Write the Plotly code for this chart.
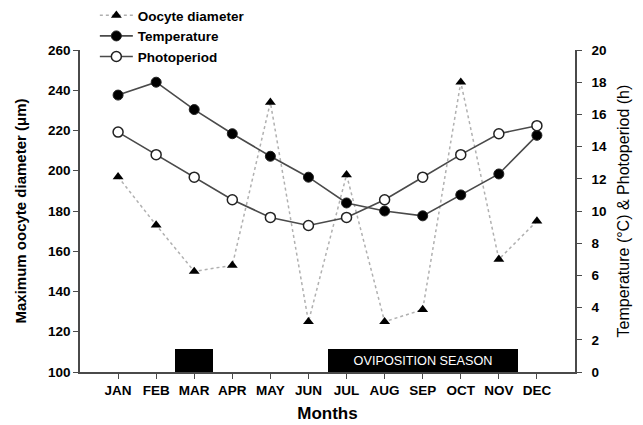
import plotly.graph_objects as go

# Monthly data
months = ["JAN", "FEB", "MAR", "APR", "MAY", "JUN", "JUL", "AUG", "SEP", "OCT", "NOV", "DEC"]
month_pos = list(range(1, 13))
oocyte_diameter = [197, 173, 150, 153, 234, 125, 198, 125, 131, 244, 156, 175]
temperature = [17.2, 18.0, 16.3, 14.8, 13.4, 12.1, 10.5, 10.0, 9.7, 11.0, 12.3, 14.7]
photoperiod = [14.9, 13.5, 12.1, 10.7, 9.6, 9.1, 9.6, 10.7, 12.1, 13.5, 14.8, 15.3]

# Reproductive periods (centre month, span in months, bar height on the right axis)
period_centre = [3, 9]
period_span = [1, 5]
period_height = [1.4, 1.4]
period_label = ["", "OVIPOSITION SEASON"]

FONT = "Liberation Sans, Arial, sans-serif"
LINE = "#4a4a4a"
TICKFONT = dict(family=FONT, size=13.5, weight="bold")

fig = go.Figure()

fig.add_trace(go.Bar(
    x=period_centre, y=period_height, width=period_span, base=0,
    yaxis="y2", marker=dict(color="black", line=dict(width=0)),
    text=period_label, textposition="inside", insidetextanchor="middle",
    textfont=dict(family=FONT, size=12.7, color="white"),
    showlegend=False, hoverinfo="skip",
))

fig.add_trace(go.Scatter(
    x=month_pos, y=oocyte_diameter, name="Oocyte diameter", mode="lines+markers",
    line=dict(color="#b0b0b0", width=1.5, dash="dot"),
    marker=dict(symbol="triangle-up", size=9.5, color="black"),
))
fig.add_trace(go.Scatter(
    x=month_pos, y=temperature, name="Temperature", mode="lines+markers", yaxis="y2",
    line=dict(color=LINE, width=1.6),
    marker=dict(symbol="circle", size=10, color="black", line=dict(color="#222", width=1)),
))
fig.add_trace(go.Scatter(
    x=month_pos, y=photoperiod, name="Photoperiod", mode="lines+markers", yaxis="y2",
    line=dict(color=LINE, width=1.6),
    marker=dict(symbol="circle", size=10, color="white", line=dict(color="#222", width=1.5)),
))

fig.update_layout(
    width=643, height=425,
    margin=dict(l=80, r=68, t=50, b=53, autoexpand=False),
    plot_bgcolor="white", paper_bgcolor="white",
    font=dict(family=FONT, color="black"),
    showlegend=True,
    legend=dict(
        x=0.03, y=1.155, xanchor="left", yanchor="top",
        font=dict(family=FONT, size=13.5, weight="bold"),
        bgcolor="rgba(0,0,0,0)", itemwidth=33, tracegroupgap=0,
    ),
    xaxis=dict(
        range=[0, 13], tickvals=month_pos, ticktext=months,
        showgrid=False, zeroline=False, automargin=False,
        showline=True, linecolor=LINE, linewidth=1.5,
        ticks="outside", ticklen=5, tickcolor=LINE,
        tickfont=TICKFONT,
        title=dict(text="Months", font=dict(family=FONT, size=17, weight="bold"), standoff=10),
    ),
    yaxis=dict(
        range=[100, 260], dtick=20,
        showgrid=False, zeroline=False, automargin=False,
        showline=True, linecolor=LINE, linewidth=1.5,
        ticks="outside", ticklen=5, tickcolor=LINE,
        tickfont=TICKFONT,
        title=dict(text="Maximum oocyte diameter (μm)",
                   font=dict(family=FONT, size=15, weight="bold"), standoff=18),
    ),
    yaxis2=dict(
        range=[0, 20], dtick=2, overlaying="y", side="right",
        showgrid=False, zeroline=False, automargin=False,
        showline=True, linecolor=LINE, linewidth=1.5,
        ticks="outside", ticklen=5, tickcolor=LINE, ticklabelstandoff=7,
        tickfont=TICKFONT,
        title=dict(text="Temperature (°C) & Photoperiod (h)",
                   font=dict(family=FONT, size=16), standoff=12),
    ),
    bargap=0,
)

fig.write_html("out.html")
